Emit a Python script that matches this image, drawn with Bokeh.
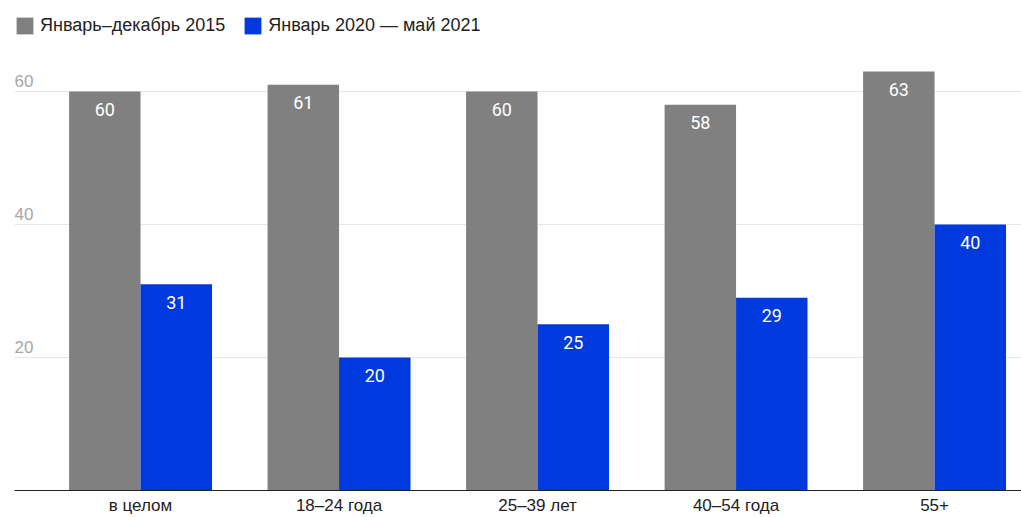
from bokeh.plotting import figure
from bokeh.models import ColumnDataSource, FixedTicker, Legend, LegendItem
from bokeh.core.properties import value
from bokeh.embed import file_html
from bokeh.resources import INLINE

categories = ["в целом", "18–24 года", "25–39 лет", "40–54 года", "55+"]
v2015 = [60, 61, 60, 58, 63]
v2020 = [31, 20, 25, 29, 40]
y_ticks = [20, 40, 60]
series_names = ["Январь–декабрь 2015", "Январь 2020 — май 2021"]

GRAY = "#808080"
BLUE = "#003ade"

xs = list(range(len(categories)))
x_gray = [x - 0.18 for x in xs]
x_blue = [x + 0.18 for x in xs]

src = ColumnDataSource(dict(xg=x_gray, xb=x_blue, g=v2015, b=v2020,
                            gl=[str(v) for v in v2015], bl=[str(v) for v in v2020]))

X0, X1 = -0.635, 4.438
p = figure(width=1021, height=517, output_backend="svg", toolbar_location=None,
           x_range=(X0, X1), y_range=(0, 73.68),
           min_border_left=14, min_border_right=0, min_border_top=0, min_border_bottom=27)
p.outline_line_color = None
p.background_fill_color = "white"
p.border_fill_color = "white"

r1 = p.vbar(x="xg", top="g", width=0.36, source=src, fill_color=GRAY, line_color=None)
r2 = p.vbar(x="xb", top="b", width=0.36, source=src, fill_color=BLUE, line_color=None)

p.text(x="xg", y="g", text="gl", source=src, text_color="white", text_align="center",
       text_baseline="middle", y_offset=18, text_font=value("Roboto"), text_font_size="18px")
p.text(x="xb", y="b", text="bl", source=src, text_color="white", text_align="center",
       text_baseline="middle", y_offset=18, text_font=value("Roboto"), text_font_size="18px")

# y tick labels placed above gridlines at left
p.text(x=[X0] * len(y_ticks), y=y_ticks, text=[str(t) for t in y_ticks],
       text_color="#a6a6a6", text_align="left", text_baseline="bottom", y_offset=-4,
       text_font=value("Liberation Sans"), text_font_size="17px")

p.yaxis.visible = False
p.xgrid.visible = False
p.ygrid.ticker = FixedTicker(ticks=y_ticks)
p.ygrid.grid_line_color = "#e6e6e6"
p.ygrid.grid_line_width = 1

xa = p.xaxis[0]
xa.ticker = FixedTicker(ticks=xs)
xa.major_label_overrides = {i: c for i, c in enumerate(categories)}
xa.major_tick_line_color = None
xa.minor_tick_line_color = None
xa.major_tick_out = 0
xa.major_tick_in = 0
xa.axis_line_color = "#222222"
xa.axis_line_width = 1
xa.major_label_text_font = "Liberation Sans"
xa.major_label_text_font_size = "17px"
xa.major_label_text_color = "#222222"
xa.major_label_standoff = 5

legend = Legend(items=[LegendItem(label=series_names[0], renderers=[r1]),
                       LegendItem(label=series_names[1], renderers=[r2])],
                orientation="horizontal", location=(0, 454),
                glyph_width=21, glyph_height=21, label_standoff=5, spacing=17,
                padding=0, margin=0, border_line_color=None, background_fill_alpha=0,
                label_text_font="Liberation Sans", label_text_font_size="18px",
                label_text_color="#222222")
p.add_layout(legend)

open("out.html", "w").write(file_html(p, INLINE))
